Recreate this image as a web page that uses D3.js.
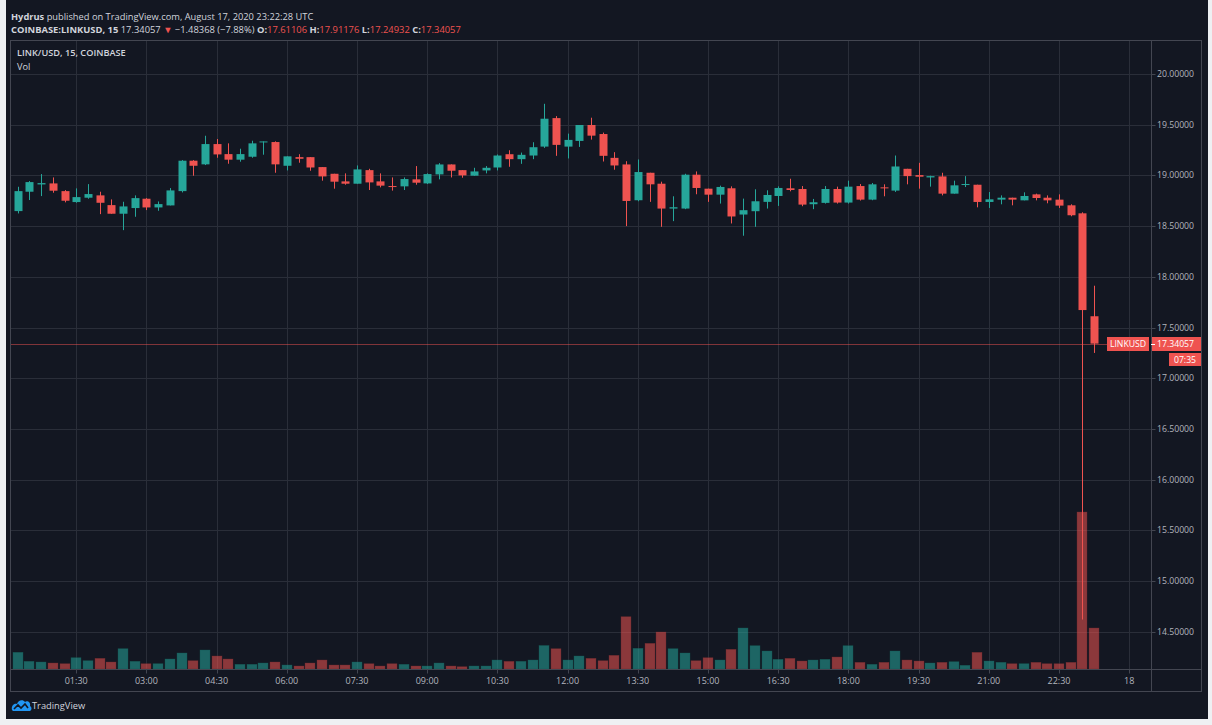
<!DOCTYPE html>
<html><head><meta charset="utf-8">
<script src="https://cdn.jsdelivr.net/npm/d3@7"></script>
<style>html,body{margin:0;padding:0;background:#eef0f3;} svg{display:block;font-family:"Open Sans",sans-serif;}</style>
</head><body><svg id="c" width="1212" height="725"></svg>
<script>
// ---- data (15-minute candles, LINK/USD, Coinbase, 2020-08-17) ----
const firstBar = "2020-08-17T00:15:00Z";
const barMinutes = 15;
const openVals = [18.648,18.839,18.911,18.921,18.845,18.737,18.780,18.803,18.707,18.622,
18.678,18.770,18.684,18.704,18.845,19.145,19.109,19.309,19.210,19.155,
19.184,19.326,19.329,19.095,19.180,19.180,19.082,19.016,18.941,18.918,
19.052,18.941,18.895,18.892,18.961,18.921,19.010,19.108,19.052,18.997,
19.049,19.078,19.209,19.160,19.196,19.284,19.565,19.284,19.340,19.497,
19.408,19.173,19.108,18.755,19.026,18.918,18.673,18.673,19.007,18.869,
18.810,18.873,18.614,18.647,18.739,18.797,18.873,18.866,18.716,18.729,
18.866,18.732,18.895,18.761,18.882,18.850,19.065,19.003,18.980,18.990,
18.820,18.905,18.908,18.738,18.761,18.780,18.754,18.813,18.780,18.761,
18.705,18.626,17.611];
const highVals = [18.888,18.944,19.013,18.980,18.855,18.872,18.914,18.839,18.763,18.740,
18.803,18.776,18.743,18.875,19.151,19.151,19.391,19.359,19.316,19.263,
19.342,19.335,19.336,19.188,19.209,19.180,19.082,19.016,19.020,19.098,
19.065,19.020,18.980,18.980,19.092,19.020,19.121,19.108,19.052,19.075,
19.092,19.206,19.248,19.225,19.327,19.706,19.585,19.412,19.497,19.569,
19.422,19.229,19.140,19.157,19.026,18.938,18.794,19.016,19.039,18.869,
18.899,18.892,18.771,18.863,18.853,18.892,18.967,18.895,18.768,18.895,
18.889,18.948,18.915,18.925,18.912,19.196,19.065,19.124,18.997,19.026,
18.948,18.993,18.908,18.836,18.803,18.780,18.833,18.820,18.803,18.813,
18.715,18.636,17.912];
const lowVals = [18.625,18.757,18.796,18.829,18.734,18.730,18.770,18.618,18.622,18.460,
18.592,18.658,18.651,18.704,18.832,18.997,19.102,19.174,19.115,19.135,
19.174,19.204,19.026,19.049,19.125,19.046,18.948,18.869,18.908,18.918,
18.856,18.882,18.850,18.856,18.908,18.915,18.961,18.980,18.977,18.997,
19.020,19.049,19.085,19.114,19.160,19.271,19.193,19.167,19.281,19.353,
19.137,19.056,18.500,18.745,18.739,18.493,18.549,18.667,18.814,18.739,
18.722,18.526,18.405,18.493,18.673,18.699,18.843,18.696,18.667,18.722,
18.722,18.722,18.752,18.755,18.794,18.837,18.912,18.869,18.889,18.803,
18.820,18.885,18.685,18.679,18.715,18.705,18.754,18.754,18.725,18.679,
18.597,14.620,17.249];
const closeVals = [18.845,18.934,18.924,18.849,18.750,18.786,18.816,18.730,18.622,18.694,
18.776,18.684,18.717,18.852,19.145,19.095,19.309,19.207,19.155,19.210,
19.316,19.335,19.109,19.188,19.164,19.078,18.990,18.938,18.918,19.059,
18.931,18.899,18.886,18.964,18.928,19.013,19.108,19.046,19.000,19.039,
19.075,19.196,19.160,19.203,19.278,19.559,19.301,19.350,19.497,19.392,
19.193,19.098,18.748,19.033,18.912,18.673,18.686,19.007,18.876,18.810,
18.886,18.595,18.657,18.745,18.807,18.876,18.856,18.712,18.735,18.866,
18.732,18.889,18.761,18.912,18.873,19.088,18.993,18.987,18.993,18.820,
18.902,18.915,18.738,18.764,18.780,18.761,18.797,18.777,18.754,18.702,
18.607,17.672,17.341];
const volumeVals = [16.7,7.7,7,6,5.3,11.3,8.3,10.7,7,20.3,
7.7,5.3,5.3,10,16,8.3,19,13,10,4.7,
4.7,6,7,4,3,6,9,4,4,7,
5.3,3,5.3,4.7,3,3,6,3,2.3,3,
3,9,7.7,7.7,9,23.5,20.3,9,13,10.7,
8.3,13.7,52.3,20.7,25.7,37,20.3,16,8.3,11.3,
9,19.7,41,23.3,18,9.7,10.7,8,9,9.7,
12,23.3,6.7,4.7,6.7,18,9,8,6,6.7,
7.3,3.7,16.7,8,6.7,5.3,5.3,6.7,5.3,5.3,
6.7,157,41];
const timeTicks = ["2020-08-17T01:30Z","2020-08-17T03:00Z","2020-08-17T04:30Z","2020-08-17T06:00Z","2020-08-17T07:30Z","2020-08-17T09:00Z","2020-08-17T10:30Z","2020-08-17T12:00Z","2020-08-17T13:30Z","2020-08-17T15:00Z","2020-08-17T16:30Z","2020-08-17T18:00Z","2020-08-17T19:30Z","2020-08-17T21:00Z","2020-08-17T22:30Z","2020-08-18T00:00Z"];
const timeTickLabels = ["01:30","03:00","04:30","06:00","07:30","09:00","10:30","12:00","13:30","15:00","16:30","18:00","19:30","21:00","22:30","18"];
const priceTicks = [14.5,15.0,15.5,16.0,16.5,17.0,17.5,18.0,18.5,19.0,19.5,20.0];
const lastPrice = 17.34057;

// ---- layout ----
const BG = "#131722", GRID = "#2a2e39", BORDER = "#434651", TXT = "#d1d4dc", AX = "#b2b5be";
const UP = "#26a69a", DN = "#ef5350";
const pane = {l: 10.5, t: 40.5, r: 1151.5, b: 669.5};
const outer = {r: 1201.5, b: 691.5};

const svg = d3.select("#c");
svg.append("rect").attr("x",6).attr("y",0).attr("width",1202).attr("height",719).attr("fill",BG);

const t0 = d3.isoParse(firstBar).getTime();
const bars = openVals.map((o,i)=>({t:new Date(t0 + i*barMinutes*60000), o, h:highVals[i], l:lowVals[i], c:closeVals[i], v:volumeVals[i]}));

const x = d3.scaleUtc().domain([d3.isoParse("2020-08-17T01:30Z"), d3.isoParse("2020-08-18T00:00Z")]).range([76.2, 1129.2]);
const y = d3.scaleLinear().domain([14.5, 20]).range([631.7, 74]);
const yv = d3.scaleLinear().domain([0, d3.max(volumeVals)]).range([669, 512]);

// grid
const g = svg.append("g");
g.selectAll("line.h").data(priceTicks).join("line")
  .attr("x1",pane.l).attr("x2",pane.r).attr("y1",d=>Math.round(y(d))+0.5).attr("y2",d=>Math.round(y(d))+0.5)
  .attr("stroke",GRID).attr("stroke-width",1);
g.selectAll("line.v").data(timeTicks).join("line")
  .attr("x1",d=>Math.round(x(d3.isoParse(d)))+0.5).attr("x2",d=>Math.round(x(d3.isoParse(d)))+0.5)
  .attr("y1",pane.t).attr("y2",pane.b).attr("stroke",GRID).attr("stroke-width",1);

// clip
svg.append("clipPath").attr("id","pc").append("rect")
  .attr("x",pane.l).attr("y",pane.t).attr("width",pane.r-pane.l).attr("height",pane.b-pane.t);
const plot = svg.append("g").attr("clip-path","url(#pc)");

// volume
plot.selectAll("rect.vol").data(bars).join("rect")
  .attr("x",d=>Math.round(x(d.t))-5).attr("width",10)
  .attr("y",d=>yv(d.v)).attr("height",d=>669-yv(d.v))
  .attr("fill",d=>d.c>=d.o?"rgba(38,166,154,0.55)":"rgba(239,83,80,0.55)")
  .attr("stroke",d=>d.c>=d.o?"rgba(20,90,85,0.6)":"rgba(110,40,45,0.6)").attr("stroke-width",0.6);

// last price dotted line
plot.append("line").attr("x1",pane.l).attr("x2",1107).attr("y1",Math.round(y(lastPrice))+0.5).attr("y2",Math.round(y(lastPrice))+0.5)
  .attr("stroke",DN).attr("stroke-width",1).attr("stroke-dasharray","1,1");

// candles
const cg = plot.selectAll("g.cd").data(bars).join("g");
cg.append("line")
  .attr("x1",d=>Math.round(x(d.t))+0.5).attr("x2",d=>Math.round(x(d.t))+0.5)
  .attr("y1",d=>y(d.h)).attr("y2",d=>y(d.l))
  .attr("stroke",d=>d.c>=d.o?UP:DN).attr("stroke-width",1);
cg.append("rect")
  .attr("x",d=>Math.round(x(d.t))-3.5).attr("width",8)
  .attr("y",d=>y(Math.max(d.o,d.c))).attr("height",d=>Math.max(1,Math.abs(y(d.o)-y(d.c))))
  .attr("fill",d=>d.c>=d.o?UP:DN);

// frame
svg.append("rect").attr("x",pane.l).attr("y",pane.t).attr("width",outer.r-pane.l).attr("height",outer.b-pane.t)
  .attr("fill","none").attr("stroke",BORDER);
svg.append("line").attr("x1",pane.r).attr("x2",pane.r).attr("y1",pane.t).attr("y2",outer.b).attr("stroke",BORDER);
svg.append("line").attr("x1",pane.l).attr("x2",outer.r).attr("y1",pane.b).attr("y2",pane.b).attr("stroke",BORDER);

// price axis
const pa = svg.append("g");
pa.selectAll("line").data(priceTicks).join("line")
  .attr("x1",pane.r).attr("x2",pane.r+4).attr("y1",d=>Math.round(y(d))+0.5).attr("y2",d=>Math.round(y(d))+0.5).attr("stroke",BORDER);
pa.selectAll("text").data(priceTicks).join("text")
  .attr("x",1157).attr("y",d=>y(d)).attr("dy","0.35em")
  .attr("fill",AX).attr("font-size",8.7).text(d=>d.toFixed(5));

// time axis
const ta = svg.append("g");
ta.selectAll("line").data(timeTicks).join("line")
  .attr("x1",d=>Math.round(x(d3.isoParse(d)))+0.5).attr("x2",d=>Math.round(x(d3.isoParse(d)))+0.5)
  .attr("y1",pane.b).attr("y2",pane.b+4).attr("stroke",BORDER);
ta.selectAll("text").data(timeTicks).join("text")
  .attr("x",d=>x(d3.isoParse(d))).attr("y",684).attr("text-anchor","middle")
  .attr("fill",AX).attr("font-size",9).text((d,i)=>timeTickLabels[i]);

// last price labels
const ly = Math.round(y(lastPrice));
svg.append("rect").attr("x",1107).attr("y",ly-7).attr("width",42).attr("height",14).attr("fill",DN);
svg.append("text").attr("x",1128).attr("y",ly).attr("dy","0.35em").attr("text-anchor","middle").attr("fill","#fff").attr("font-size",8.7).text("LINKUSD");
svg.append("rect").attr("x",1152).attr("y",ly-7).attr("width",49).attr("height",14).attr("fill",DN);
svg.append("line").attr("x1",1151).attr("x2",1155).attr("y1",ly+0.5).attr("y2",ly+0.5).attr("stroke","#fff");
svg.append("text").attr("x",1157).attr("y",ly).attr("dy","0.35em").attr("fill","#fff").attr("font-size",8.7).text(lastPrice.toFixed(5));
svg.append("rect").attr("x",1169).attr("y",ly+9).attr("width",32).attr("height",13).attr("fill",DN);
svg.append("text").attr("x",1185).attr("y",ly+15.5).attr("dy","0.35em").attr("text-anchor","middle").attr("fill","#fff").attr("font-size",8.7).text("07:35");

// header
const h1 = svg.append("text").attr("x",11).attr("y",19.5).attr("fill",TXT).attr("font-size",9.3);
h1.append("tspan").attr("font-weight","bold").text("Hydrus");
h1.append("tspan").text(" published on TradingView.com, August 17, 2020 23:22:28 UTC");
const h2 = svg.append("text").attr("x",11).attr("y",33).attr("fill",TXT).attr("font-size",9.4);
h2.append("tspan").attr("font-weight","bold").text("COINBASE:LINKUSD, 15");
h2.append("tspan").text("  17.34057 ");
h2.append("tspan").attr("fill",DN).text("▼");
h2.append("tspan").text(" \u22121.48368 (\u22127.88%) ");
[["O:","17.61106"],["H:","17.91176"],["L:","17.24932"],["C:","17.34057"]].forEach(([k,v],i)=>{
  h2.append("tspan").attr("font-weight","bold").text((i?" ":"")+k);
  h2.append("tspan").attr("fill",DN).text(v);
});
svg.append("text").attr("x",17).attr("y",56).attr("fill",TXT).attr("font-size",9.2).attr("font-weight","600").text("LINK/USD, 15, COINBASE");
svg.append("text").attr("x",17).attr("y",69.5).attr("fill",TXT).attr("font-size",9.2).text("Vol");

// logo
const lg = svg.append("g").attr("transform","translate(11,698)");
lg.append("path").attr("d","M1,12 C0,8 3,5 6,6 C7,2 12,1 14,4 C16,2 20,4 19,8 C21,9 21,12 19,13 L2,13 Z").attr("fill","#2196f3");
lg.append("path").attr("d","M3,11 L7,7 L10,10 L14,6 L17,10").attr("fill","none").attr("stroke","#131722").attr("stroke-width",1.6);
svg.append("text").attr("x",32).attr("y",709).attr("fill",TXT).attr("font-size",9.3).text("TradingView");
</script></body></html>
